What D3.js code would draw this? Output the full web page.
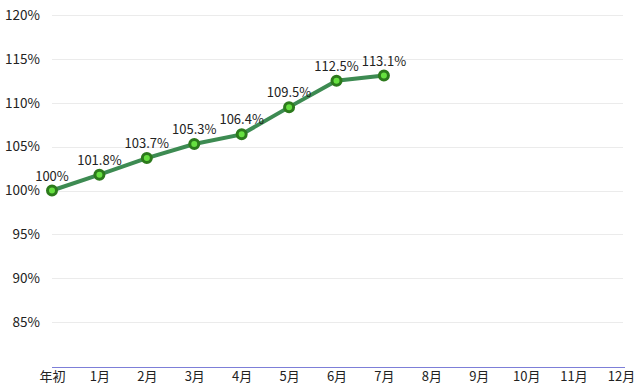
<!DOCTYPE html>
<html>
<head>
<meta charset="utf-8">
<script src="https://cdn.jsdelivr.net/npm/d3@7"></script>
<style>
  body { margin: 0; background: #fff; }
  text { font-family: "Noto Sans CJK JP", "Noto Sans", sans-serif; fill: #222; }
</style>
</head>
<body>
<script>
const months = ['年初', '1月', '2月', '3月', '4月', '5月', '6月', '7月', '8月', '9月', '10月', '11月', '12月'];
const values = [100, 101.8, 103.7, 105.3, 106.4, 109.5, 112.5, 113.1];
const labels = ['100%', '101.8%', '103.7%', '105.3%', '106.4%', '109.5%', '112.5%', '113.1%'];
const yTicks = [85, 90, 95, 100, 105, 110, 115, 120];

const width = 641, height = 387;

const svg = d3.select('body').append('svg')
  .attr('width', width)
  .attr('height', height);

const x = d3.scalePoint().domain(months).range([52, 621]);
const y = d3.scaleLinear().domain([80, 120]).range([366, 15]);

// grid lines
svg.append('g')
  .selectAll('line')
  .data(yTicks)
  .enter()
  .append('line')
  .attr('x1', 52)
  .attr('x2', 623)
  .attr('y1', (d) => Math.round(y(d)) + 0.5)
  .attr('y2', (d) => Math.round(y(d)) + 0.5)
  .attr('stroke', '#ebebeb');

// y labels
const yAxis = d3.axisLeft(y).tickValues(yTicks).tickSize(0).tickPadding(0)
  .tickFormat((d) => d + '%');
svg.append('g')
  .attr('transform', 'translate(40,0)')
  .call(yAxis)
  .call((g) => g.select('.domain').remove())
  .selectAll('text')
  .style('font-size', '13.5px')
  .attr('fill', '#222');

// x axis
const xAxis = d3.axisBottom(x).tickSize(0).tickPadding(5);
svg.append('g')
  .attr('transform', 'translate(0,367)')
  .call(xAxis)
  .call((g) => g.select('.domain').attr('stroke', '#7d7fd8').attr('d', 'M52,0.5H625'))
  .selectAll('text')
  .style('font-size', '13px')
  .attr('fill', '#222');

const line = d3.line()
  .x((d, i) => x(months[i]))
  .y((d) => y(d));

svg.append('path')
  .datum(values)
  .attr('d', line)
  .attr('fill', 'none')
  .attr('stroke', '#3d8b52')
  .attr('stroke-width', 4);

svg.append('g')
  .selectAll('circle')
  .data(values)
  .enter()
  .append('circle')
  .attr('cx', (d, i) => x(months[i]))
  .attr('cy', (d) => y(d))
  .attr('r', 4.5)
  .attr('fill', '#66e040')
  .attr('stroke', '#2c7a1c')
  .attr('stroke-width', 3);

svg.append('g')
  .selectAll('text')
  .data(values)
  .enter()
  .append('text')
  .attr('x', (d, i) => x(months[i]))
  .attr('y', (d) => y(d) - 10)
  .attr('text-anchor', 'middle')
  .style('font-size', '13px')
  .text((d, i) => labels[i]);
</script>
</body>
</html>
